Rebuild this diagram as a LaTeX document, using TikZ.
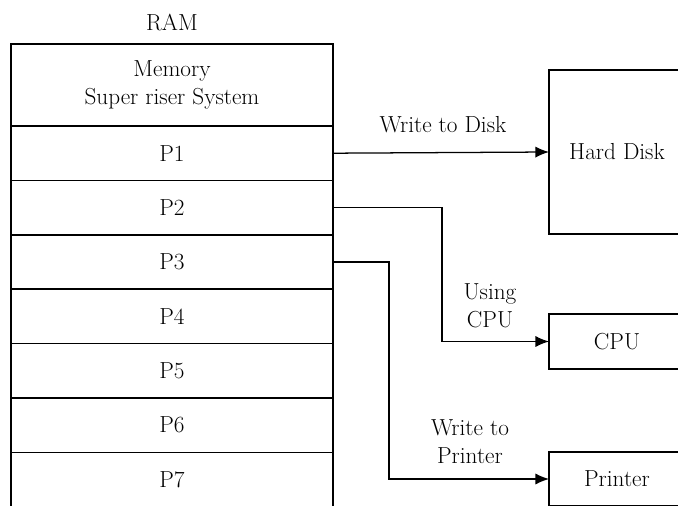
\documentclass[tikz,border=0pt]{standalone}
\usetikzlibrary{arrows.meta}
\begin{document}
\begin{tikzpicture}[x=0.025cm,y=-0.025cm,
  cell/.style = {rectangle,draw=black,line width=1.2pt,minimum width=8.05cm,minimum height=1.36cm,outer sep=0mm,font=\fontsize{16.5}{20.5}\selectfont},
  dev/.style = {rectangle,draw=black,line width=1.2pt,minimum width=3.4cm,outer sep=0mm,font=\fontsize{16.5}{20.5}\selectfont},
  arr/.style = {-{Latex[length=3.4mm,width=2.8mm]},line width=0.9pt},
  lbl/.style = {align=center,inner sep=1pt,font=\fontsize{16.5}{20}\selectfont}]
\useasboundingbox (0,0) rectangle (678,506);
\clip (0,0) rectangle (678,506);
\node[lbl] (ram) at (172,22) {RAM};
\node[cell,minimum height=2.05cm,align=center] (mss) at (172,85) {Memory\\Super riser System};
    \foreach \i in {1,...,7} \node[cell] (p\i) at (172,{126+54.4*(\i-0.5)}) {P\i};
\node[dev,minimum height=4.1cm] (hd) at (617,152) {Hard Disk};
\node[dev,minimum height=1.375cm] (cpu) at (617,341.5) {CPU};
\node[dev,minimum height=1.35cm] (prn) at (617,479) {Printer};
\node[lbl] (wd) at (443,125) {Write to Disk};
\node[lbl] (uc) at (490,306) {Using\\CPU};
\node[lbl] (wp) at (470,442) {Write to\\Printer};
\draw[arr] (p1.east) -- (hd.west);
\draw[arr] (p2.east) -- ++(109,0) |- (cpu.west);
\draw[arr] (p3.east) -- ++(56,0) |- (prn.west);
\end{tikzpicture}
\end{document}
